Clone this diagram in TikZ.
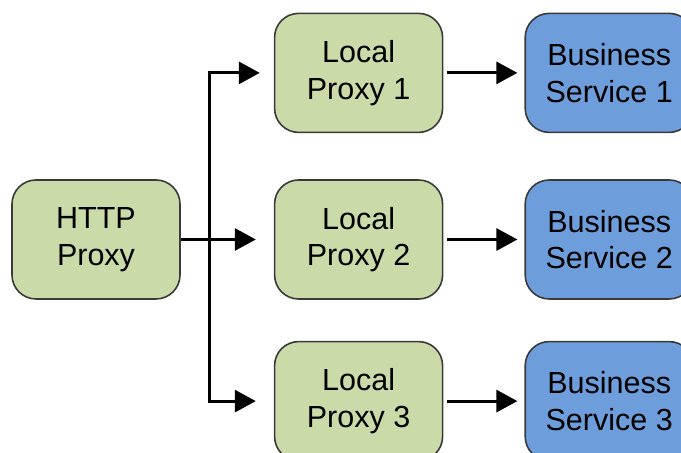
\documentclass[tikz,border=0pt]{standalone}
\usepackage{fontspec}
\setmainfont{Liberation Sans}
\usepackage{xcolor}
\usetikzlibrary{arrows.meta, positioning}
\definecolor{proxygreen}{HTML}{CBDAA9}
\definecolor{serviceblue}{HTML}{6D9EDB}
\definecolor{edgegray}{HTML}{3A3A3A}

\begin{document}
\begin{tikzpicture}[
  proxy/.style={rectangle, rounded corners=12pt, draw=edgegray, line width=0.8pt, fill=proxygreen, minimum width=84pt, minimum height=59.5pt, inner sep=0pt, align=center, font=\fontsize{15.25}{18.3}\selectfont},
  service/.style={proxy, fill=serviceblue},
  arr/.style={-{Triangle[length=10.5pt, width=11pt]}, line width=1.5pt, color=black},
  node distance=46.5pt,
]
\useasboundingbox (-48pt,119.75pt) rectangle (292.5pt,-106.75pt);
\clip (-48pt,119.75pt) rectangle (292.5pt,-106.75pt);

\node[proxy] (http) {HTTP\\Proxy};
\node[proxy, right=of http] (lp2) {Local\\Proxy 2};
\node[proxy, above=23pt of lp2] (lp1) {Local\\Proxy 1};
\node[proxy, below=20.5pt of lp2] (lp3) {Local\\Proxy 3};
\node[service, right=40.5pt of lp1] (bs1) {Business\\Service 1};
\node[service, right=40.5pt of lp2] (bs2) {Business\\Service 2};
\node[service, right=40.5pt of lp3] (bs3) {Business\\Service 3};

\coordinate (fork) at ([xshift=14.5pt]http.east);
\draw[arr, shorten >=9pt] (http.east) -- (lp2.west);
\draw[arr, shorten >=7pt] (fork) |- (lp1.west);
\draw[arr, shorten >=9pt] (fork) |- (lp3.west);

\draw[arr, shorten <=2pt, shorten >=3.5pt] (lp1) -- (bs1);
\draw[arr, shorten <=2pt, shorten >=3.5pt] (lp2) -- (bs2);
\draw[arr, shorten <=2pt, shorten >=3.5pt] (lp3) -- (bs3);
\end{tikzpicture}
\end{document}
